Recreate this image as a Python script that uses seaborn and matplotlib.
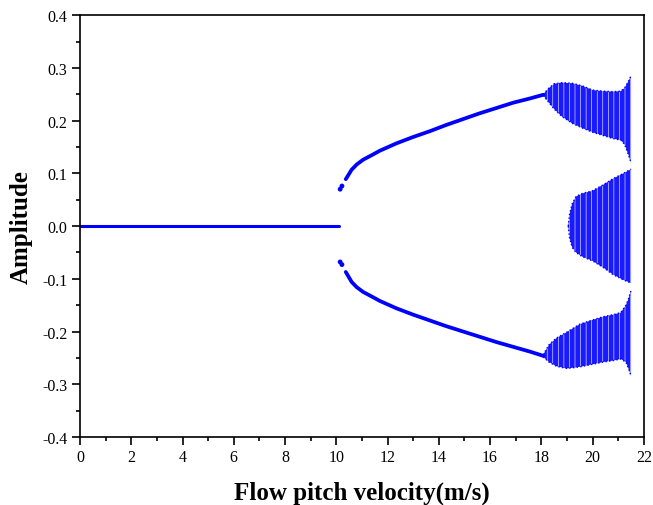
import numpy as np
import pandas as pd
import matplotlib
matplotlib.use("Agg")
import matplotlib.pyplot as plt
import seaborn as sns

# trivial (zero) branch
zero_v = [0.0, 10.1]
zero_a = [0.0, 0.0]

# first isolated points after bifurcation
start_v = [10.15, 10.22]
start_up = [0.070, 0.076]
start_lo = [-0.068, -0.073]

# periodic branches
branch_v = [10.37, 10.6, 10.8, 11.05, 11.4, 11.7, 12.35, 13.0, 13.65, 14.3,
            14.95, 15.6, 16.25, 16.9, 17.55, 18.07]
branch_up = [0.089, 0.107, 0.117, 0.126, 0.135, 0.143, 0.157, 0.169, 0.180, 0.192,
             0.203, 0.214, 0.224, 0.234, 0.242, 0.249]
branch_lo = [-0.087, -0.106, -0.116, -0.125, -0.134, -0.142, -0.156, -0.168, -0.179, -0.190,
             -0.200, -0.210, -0.220, -0.229, -0.238, -0.246]

# chaotic region envelopes
up_v = [18.07, 18.3, 18.5, 18.8, 19.2, 19.6, 20.0, 20.4, 20.8, 21.1, 21.25, 21.4, 21.5]
up_top = [0.250, 0.262, 0.270, 0.272, 0.271, 0.266, 0.258, 0.256, 0.255, 0.256, 0.262, 0.275, 0.285]
up_bot = [0.248, 0.234, 0.222, 0.208, 0.195, 0.186, 0.178, 0.172, 0.166, 0.163, 0.155, 0.135, 0.120]

mid_v = [19.05, 19.1, 19.2, 19.35, 19.6, 20.0, 20.4, 20.8, 21.2, 21.5]
mid_top = [0.0, 0.022, 0.042, 0.056, 0.062, 0.067, 0.078, 0.090, 0.100, 0.108]
mid_bot = [0.0, -0.022, -0.040, -0.050, -0.058, -0.066, -0.078, -0.092, -0.102, -0.108]

lo_v = [18.07, 18.3, 18.6, 19.0, 19.5, 20.0, 20.4, 20.8, 21.1, 21.3, 21.4, 21.5]
lo_top = [-0.244, -0.225, -0.212, -0.201, -0.186, -0.178, -0.172, -0.168, -0.164, -0.150, -0.138, -0.122]
lo_bot = [-0.248, -0.258, -0.266, -0.270, -0.267, -0.262, -0.258, -0.255, -0.252, -0.258, -0.270, -0.284]

x_ticks = [0, 2, 4, 6, 8, 10, 12, 14, 16, 18, 20, 22]
y_ticks = [-0.4, -0.3, -0.2, -0.1, 0.0, 0.1, 0.2, 0.3, 0.4]
y_tick_labels = ['-0.4', '-0.3', '-0.2', '-0.1', '0.0', '0.1', '0.2', '0.3', '0.4']

sns.set_style("ticks")
plt.rcParams['font.family'] = ['Liberation Serif', 'DejaVu Serif']
plt.rcParams['hatch.linewidth'] = 0.4
plt.rcParams['text.color'] = 'black'
plt.rcParams['axes.labelcolor'] = 'black'

fig = plt.figure(figsize=(6.53, 5.06), dpi=100)
ax = fig.add_axes([0.1225, 0.1344, 0.8635, 0.8336])

blue = '#0000ff'
sns.lineplot(x=zero_v, y=zero_a, color=blue, lw=2.2, ax=ax)
sns.lineplot(x=branch_v, y=branch_up, color=blue, lw=2.7, ax=ax)
sns.lineplot(x=branch_v, y=branch_lo, color=blue, lw=2.7, ax=ax)
sns.scatterplot(x=start_v, y=start_up, color=blue, s=12, edgecolor='none', ax=ax)
sns.scatterplot(x=start_v, y=start_lo, color=blue, s=12, edgecolor='none', ax=ax)

for v, top, bot in [(up_v, up_top, up_bot), (mid_v, mid_top, mid_bot), (lo_v, lo_top, lo_bot)]:
    ax.fill_between(v, bot, top, facecolor='#1a1aff', edgecolor='white',
                    hatch='|||', lw=0)
    ax.plot(v, top, color=blue, lw=1, ls=':')
    ax.plot(v, bot, color=blue, lw=1, ls=':')

ax.set_xlim(0, 22)
ax.set_ylim(-0.4, 0.4)
ax.set_xticks(x_ticks)
ax.set_xticks(np.arange(1, 22, 2), minor=True)
ax.set_yticks(y_ticks)
ax.set_yticks(np.arange(-0.35, 0.36, 0.1), minor=True)
ax.set_yticklabels(y_tick_labels)
ax.tick_params(which='major', direction='out', length=6, width=1.2, labelsize=11.5,
               colors='black', pad=3)
ax.tick_params(which='minor', direction='out', length=3, width=1.2, colors='black')
for s in ax.spines.values():
    s.set_linewidth(1.2)
    s.set_color('black')

ax.set_xlabel('Flow pitch velocity(m/s)', fontsize=18, fontweight='bold', color='black')
ax.set_ylabel('Amplitude', fontsize=18, fontweight='bold', color='black')
ax.xaxis.set_label_coords(0.5, -0.104)
ax.xaxis.label.set_va('top')
ax.yaxis.set_label_coords(-0.083, 0.5)

fig.savefig('out.png', dpi=100)
